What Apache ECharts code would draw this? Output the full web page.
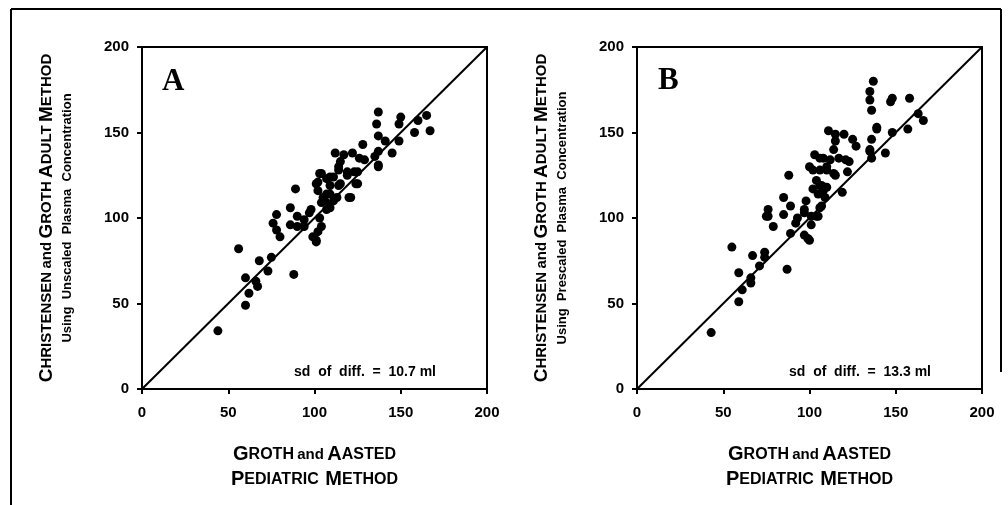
<!DOCTYPE html>
<html><head><meta charset="utf-8">
<script src="https://cdn.jsdelivr.net/npm/echarts@6/dist/echarts.min.js"></script>
<style>html,body{margin:0;padding:0;background:#fff}#c{width:1008px;height:505px}</style>
</head><body><div id="c"></div>
<script>
// Panel A: Groth & Aasted pediatric (x) vs Christensen & Groth adult, unscaled (y)
const pointsA = [[44,34],[56,82],[60,65],[60,49],[62,56],[66,63],[67,60],[68,75],[73,69],[75,77],[78,93],[76,97],[78,102],[80,89],[86,106],[86,96],[88,67],[89,117],[90,101],[90,95],[94,95],[94,99],[97,103],[98,105],[99,89],[101,87],[101,86],[102,92],[104,95],[103,100],[105,112],[104,109],[107,105],[109,106],[102,116],[102,121],[101,120],[103,126],[104,126],[107,123],[107,114],[106,110],[109,119],[109,114],[109,124],[111,124],[111,110],[113,112],[114,119],[115,120],[114,128],[115,133],[112,138],[114,130],[117,137],[119,125],[119,127],[120,112],[121,112],[122,138],[123,127],[124,120],[125,127],[125,120],[126,135],[128,143],[129,134],[135,136],[137,139],[137,131],[137,130],[137,148],[136,155],[137,162],[141,145],[145,138],[149,145],[149,155],[150,159],[158,150],[160,157],[165,160],[167,151]];
// Panel B: prescaled plasma concentration
const pointsB = [[43,33],[55,83],[59,51],[59,68],[61,58],[66,62],[66,65],[67,78],[71,72],[74,80],[74,77],[75,101],[76,105],[76,101],[79,95],[85,112],[85,102],[87,70],[88,125],[89,107],[89,91],[92,97],[93,100],[97,90],[97,103],[97,105],[98,110],[99,88],[100,87],[100,130],[101,96],[101,101],[102,117],[102,128],[103,137],[104,122],[104,101],[105,114],[105,101],[106,106],[106,119],[106,128],[106,135],[107,107],[107,119],[108,116],[108,135],[109,112],[110,118],[110,130],[110,128],[111,151],[112,134],[114,140],[114,126],[115,149],[115,145],[115,125],[117,135],[119,115],[120,149],[121,134],[122,127],[123,133],[125,146],[127,142],[135,140],[135,139],[136,135],[136,146],[137,180],[135,174],[135,169],[136,163],[139,152],[139,153],[144,138],[147,168],[148,170],[148,150],[157,152],[158,170],[163,161],[166,157]];
const identityLine = [[0,0],[200,200]];
const axisTicks = [0, 50, 100, 150, 200];
const panelLetters = ['A', 'B'];
const sdTexts = ['sd  of  diff.  =  10.7 ml', 'sd  of  diff.  =  13.3 ml'];
const yTitleLine2 = ['Using  Unscaled  Plasma  Concentration', 'Using  Prescaled  Plasma  Concentration'];

const FONT = 'Liberation Sans';
const chart = echarts.init(document.getElementById('c'), null, {renderer:'canvas'});

const xName = '{b|G}{s|ROTH} {n|and} {b|A}{s|ASTED}\n{b|P}{s|EDIATRIC}  {b|M}{s|ETHOD}';
const xRich = {
  b:{fontFamily:FONT,fontWeight:'bold',fontSize:20,lineHeight:25,color:'#000'},
  s:{fontFamily:FONT,fontWeight:'bold',fontSize:16,lineHeight:25,color:'#000'},
  n:{fontFamily:FONT,fontWeight:'bold',fontSize:15,lineHeight:25,color:'#000'}
};
function yName(i){
  return '{b|C}{s|HRISTENSEN} {n|and} {b|G}{s|ROTH} {b|A}{s|DULT} {b|M}{s|ETHOD}\n{m|' + yTitleLine2[i] + '}';
}
const yRich = {
  b:{fontFamily:FONT,fontWeight:'bold',fontSize:19,lineHeight:21,color:'#000'},
  s:{fontFamily:FONT,fontWeight:'bold',fontSize:15,lineHeight:21,color:'#000'},
  n:{fontFamily:FONT,fontWeight:'bold',fontSize:15,lineHeight:21,color:'#000'},
  m:{fontFamily:FONT,fontWeight:'bold',fontSize:13,lineHeight:21,color:'#000'}
};

const grids = [
  {left:142, top:47, width:345, height:342, show:true, borderColor:'#000', borderWidth:2, backgroundColor:'#fff'},
  {left:637, top:47, width:345, height:342, show:true, borderColor:'#000', borderWidth:2, backgroundColor:'#fff'}
];
function mkX(i){
  return {type:'value', gridIndex:i, min:0, max:200, interval:50,
    axisLine:{show:true, onZero:false, lineStyle:{color:'#000', width:2}},
    axisTick:{show:true, inside:false, length:5, lineStyle:{color:'#000', width:2}},
    axisLabel:{margin:16, fontFamily:FONT, fontWeight:'bold', fontSize:15, color:'#000',
      formatter:v => axisTicks.includes(v) ? String(v) : ''},
    splitLine:{show:false},
    name:xName, nameLocation:'middle', nameGap:53,
    nameTextStyle:{rich:xRich, align:'center'}};
}
function mkY(i){
  return {type:'value', gridIndex:i, min:0, max:200, interval:50,
    axisLine:{show:true, onZero:false, lineStyle:{color:'#000', width:2}},
    axisTick:{show:true, inside:false, length:5, lineStyle:{color:'#000', width:2}},
    axisLabel:{margin:13, fontFamily:FONT, fontWeight:'bold', fontSize:15, color:'#000',
      formatter:v => axisTicks.includes(v) ? String(v) : ''},
    splitLine:{show:false},
    name:yName(i), nameLocation:'middle', nameRotate:90, nameGap:64,
    nameTextStyle:{rich:yRich, align:'center'}};
}
function scatter(i, data){
  return {type:'scatter', xAxisIndex:i, yAxisIndex:i, data:data, symbol:'circle', symbolSize:9,
    itemStyle:{color:'#000', opacity:1}, silent:true, z:3};
}
function diag(i){
  return {type:'line', xAxisIndex:i, yAxisIndex:i, data:identityLine, symbol:'none',
    lineStyle:{color:'#000', width:2}, silent:true, z:2};
}
const txt = (x,y,text,size,family,align) => ({type:'text', x:x, y:y, silent:true,
  style:{text:text, fill:'#000', font:'bold '+size+'px '+family, textAlign:align||'left', textVerticalAlign:'middle'}});

chart.setOption({
  animation:false,
  backgroundColor:'#fff',
  grid:grids,
  xAxis:[mkX(0), mkX(1)],
  yAxis:[mkY(0), mkY(1)],
  series:[diag(0), scatter(0, pointsA), diag(1), scatter(1, pointsB)],
  graphic:[
    txt(162, 82, panelLetters[0], 31, '"Liberation Serif"'),
    txt(658, 81, panelLetters[1], 31, '"Liberation Serif"'),
    txt(365, 372, sdTexts[0], 14, '"Liberation Sans"', 'center'),
    txt(860, 372, sdTexts[1], 14, '"Liberation Sans"', 'center'),
    {type:'line', silent:true, shape:{x1:11, y1:9, x2:1001, y2:9}, style:{stroke:'#000', lineWidth:2}},
    {type:'line', silent:true, shape:{x1:11, y1:9, x2:11, y2:505}, style:{stroke:'#000', lineWidth:2}},
    {type:'line', silent:true, shape:{x1:1001, y1:9, x2:1001, y2:372}, style:{stroke:'#000', lineWidth:2}}
  ]
});
</script></body></html>
